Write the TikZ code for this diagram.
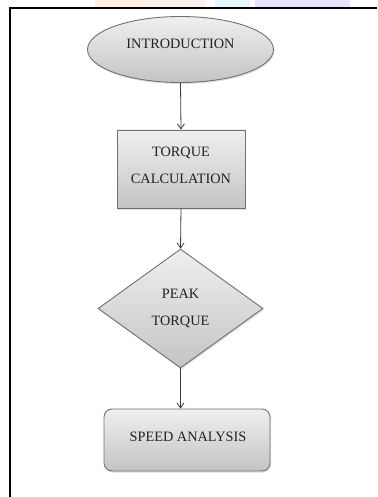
\documentclass[tikz,border=0pt]{standalone}
\usepackage{fontspec}
\setmainfont{Liberation Serif}
\usetikzlibrary{shapes.geometric,arrows.meta,shadows}
\definecolor{edgegray}{HTML}{707070}
\definecolor{topgray}{HTML}{EFEFEF}
\definecolor{botgray}{HTML}{C4C4C4}
\definecolor{txtgray}{HTML}{222222}
\definecolor{linegray}{HTML}{3A3A3A}
\tikzset{
  shapebox/.style={draw=edgegray, line width=0.9pt, top color=topgray, bottom color=botgray,
    inner sep=0pt, drop shadow={shadow xshift=1pt, shadow yshift=-1.5pt, opacity=0.25}},
  lbl/.style={anchor=base, text=txtgray, font=\fontsize{14.3}{16}\selectfont, inner sep=0pt},
  flow/.style={draw=linegray, line width=0.8pt, -{Straight Barb[length=5pt,width=7pt]}},
  frameline/.style={draw=black, line width=2pt}
}
\begin{document}
\begin{tikzpicture}[x=1pt,y=-1pt]
\useasboundingbox (0,0) rectangle (377,497);
% faint watermark tints at the top
\fill[orange!12] (95,0) rectangle (140,7);
\fill[red!6] (140,0) rectangle (205,7);
\fill[cyan!10] (215,0) rectangle (250,7);
\fill[blue!10] (255,0) rectangle (350,7);
% frame
\coordinate (ftl) at (9.5,8);
\coordinate (fbl) at (9.5,497);
\coordinate (ftr) at (377,8);
\draw[frameline] (fbl) -- (ftl) -- (ftr);
% shapes
\node[shapebox, ellipse, minimum width=186pt, minimum height=66pt] (intro) at (180.5,49.5) {};
\node[lbl] (introT) at (180.5,48.8) {INTRODUCTION};
\node[shapebox, rectangle, minimum width=128pt, minimum height=78pt] (torque) at (181,169) {};
\node[lbl] (torqueT1) at (181,157) {TORQUE};
\node[lbl] (torqueT2) at (181,183) {CALCULATION};
\node[shapebox, diamond, minimum width=165pt, minimum height=119pt] (peak) at (180.5,308.5) {};
\node[lbl] (peakT1) at (180.5,298) {PEAK};
\node[lbl] (peakT2) at (180.5,325) {TORQUE};
\node[shapebox, rectangle, rounded corners=8pt, minimum width=166pt, minimum height=62pt] (speed) at (187,440) {};
\node[lbl] (speedT) at (188,441) {SPEED ANALYSIS};
% connectors
\draw[flow] (intro.south) -- (torque.north);
\draw[flow] (torque.south) -- (peak.north);
\draw[flow] (peak.south) -- (peak.south |- speed.north);
\end{tikzpicture}
\end{document}
